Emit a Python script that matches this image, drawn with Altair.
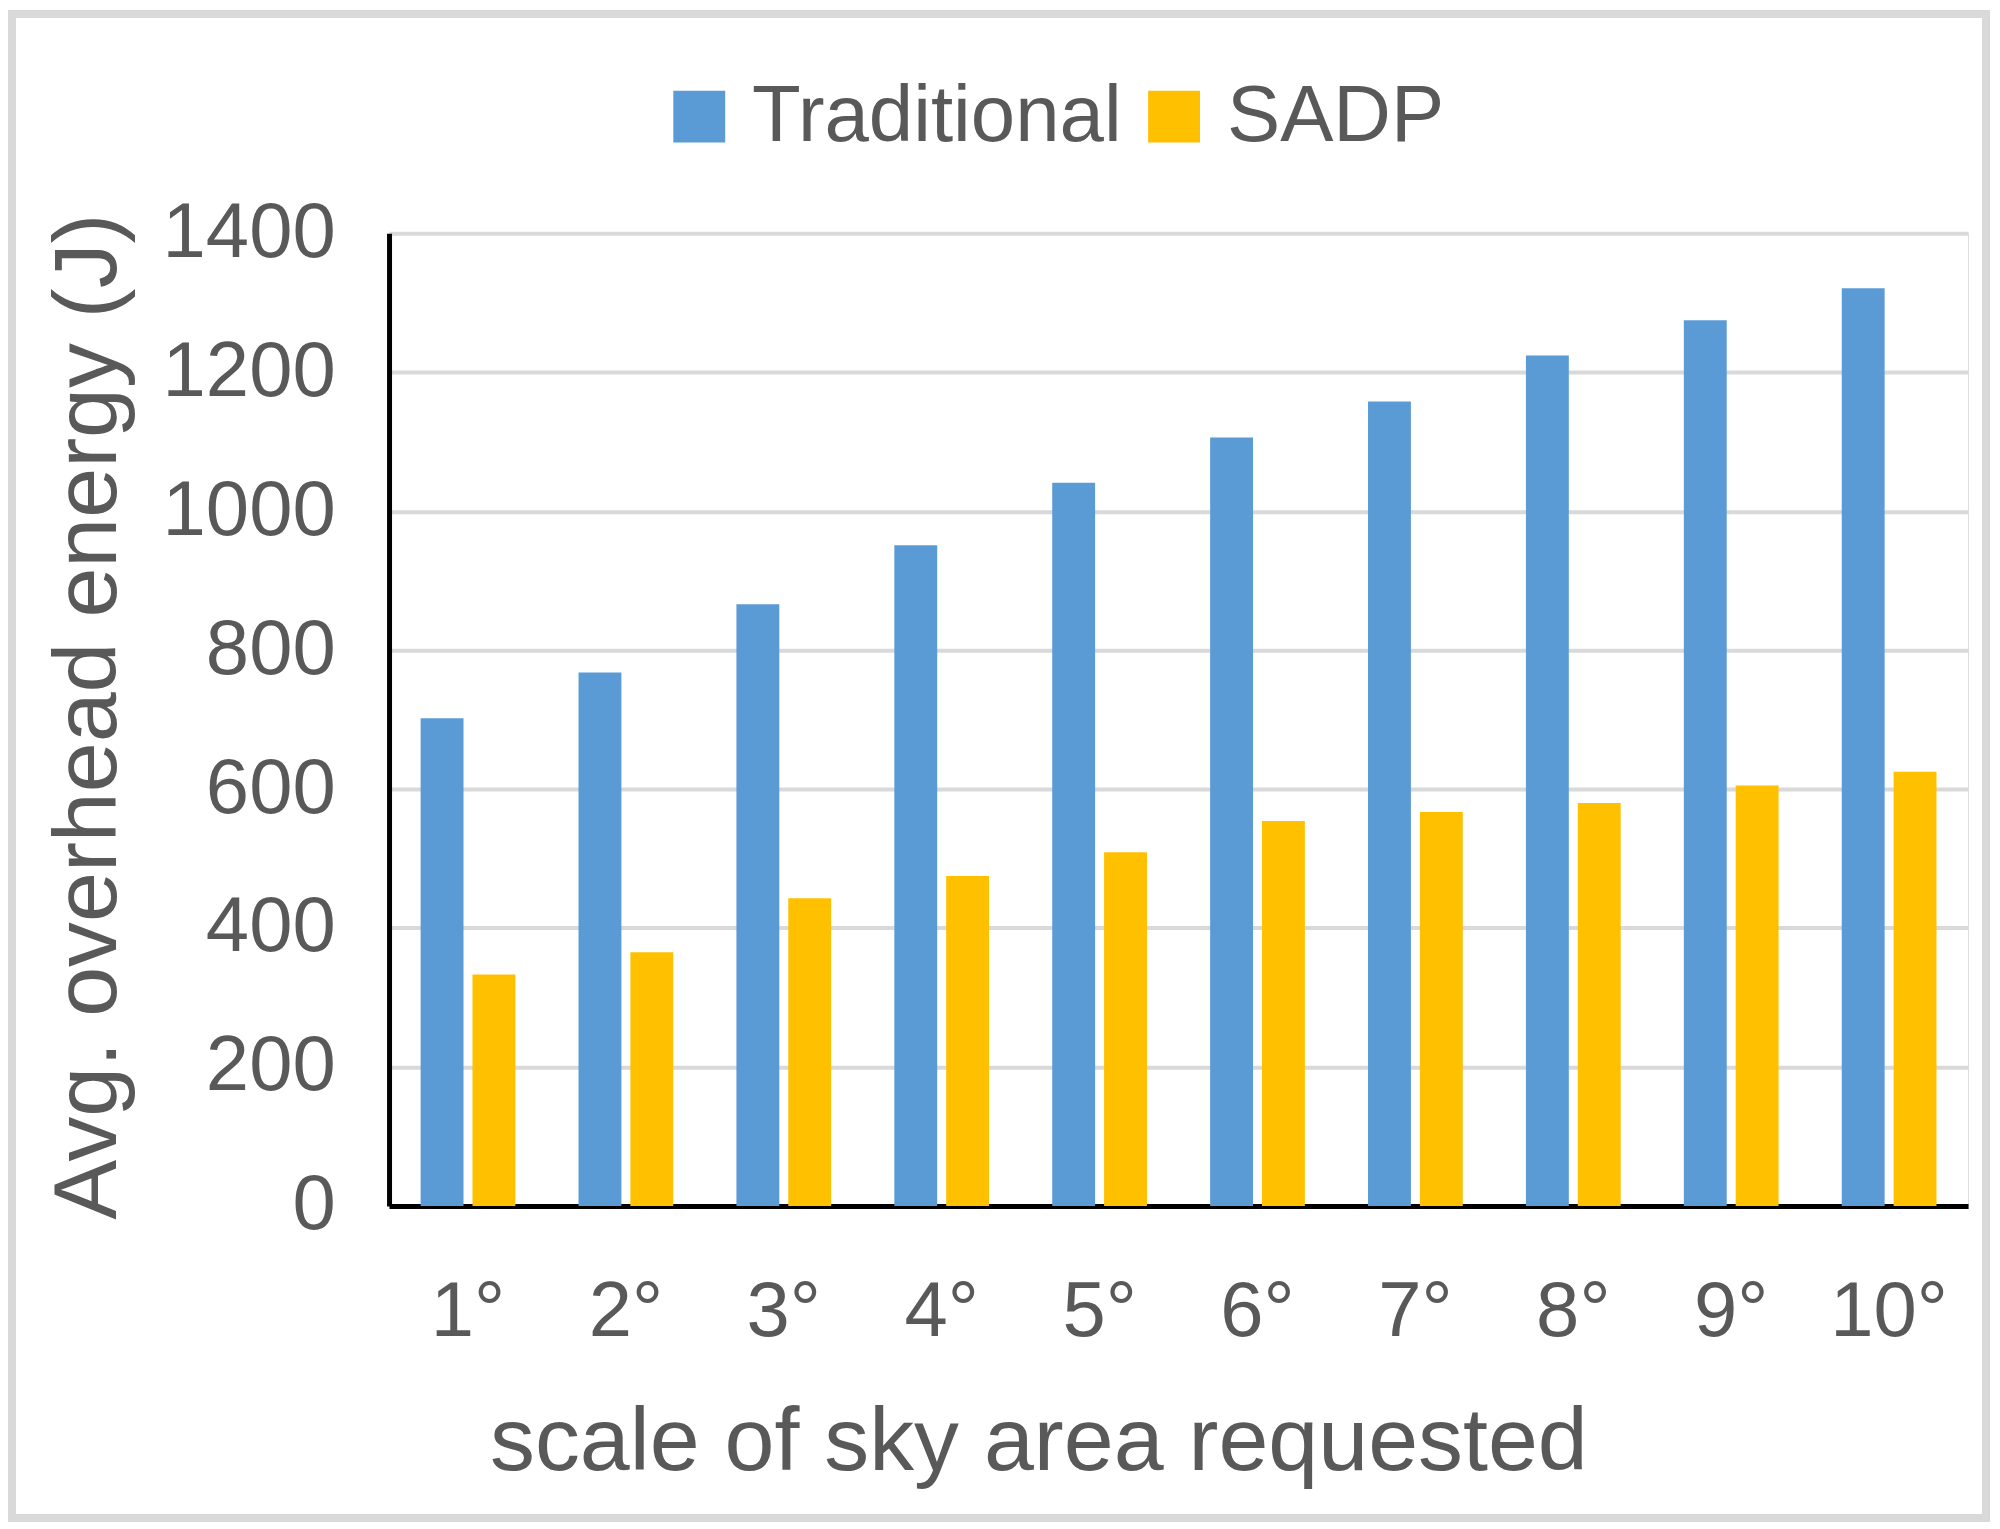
import altair as alt
import pandas as pd

categories = ["1°", "2°", "3°", "4°", "5°", "6°", "7°", "8°", "9°", "10°"]
series_names = ["Traditional", "SADP"]
traditional = [702, 768, 866, 951, 1041, 1106, 1158, 1224, 1275, 1321]
sadp = [333, 365, 443, 475, 509, 554, 567, 580, 605, 625]
y_ticks = [0, 200, 400, 600, 800, 1000, 1200, 1400]
colors = ["#5B9BD5", "#FFC000"]

rows = []
for c, t, s in zip(categories, traditional, sadp):
    rows.append({"scale": c, "series": "Traditional", "energy": t})
    rows.append({"scale": c, "series": "SADP", "energy": s})
df = pd.DataFrame(rows)

FONT = "Liberation Sans"
TEXT = "#595959"

bars = alt.Chart(df).mark_bar().encode(
    x=alt.X(
        "scale:N",
        sort=categories,
        scale=alt.Scale(paddingInner=0.4, paddingOuter=0.2),
        axis=alt.Axis(
            title="scale of sky area requested",
            labelAngle=0,
            ticks=False,
            grid=False,
            labelFontSize=78,
            labelColor=TEXT,
            labelFont=FONT,
            labelLimit=1000,
            labelBaseline="alphabetic",
            labelPadding=130,
            domainColor="#000000",
            domainWidth=5,
            titleFont=FONT,
            titleFontSize=90,
            titleFontWeight="normal",
            titleColor=TEXT,
            titleX=651,
            titleY=264,
            titleAlign="center",
            titleBaseline="alphabetic",
            titleLimit=3000,
        ),
    ),
    xOffset=alt.XOffset(
        "series:N",
        sort=series_names,
        scale=alt.Scale(paddingInner=0.173, paddingOuter=0),
    ),
    y=alt.Y(
        "energy:Q",
        scale=alt.Scale(domain=[0, 1400], nice=False),
        axis=alt.Axis(
            title="Avg. overhead energy (J)",
            values=y_ticks,
            format="d",
            ticks=False,
            grid=True,
            gridColor="#d9d9d9",
            gridWidth=4,
            labelFontSize=78,
            labelColor=TEXT,
            labelFont=FONT,
            labelLimit=1000,
            labelPadding=54,
            domainColor="#000000",
            domainWidth=5,
            titleFont=FONT,
            titleFontSize=90,
            titleFontWeight="normal",
            titleColor=TEXT,
            titleAngle=270,
            titleX=-274,
            titleY=484,
            titleAlign="center",
            titleBaseline="alphabetic",
            titleLimit=3000,
        ),
    ),
    color=alt.Color(
        "series:N",
        sort=series_names,
        scale=alt.Scale(domain=series_names, range=colors),
        legend=alt.Legend(
            title=None,
            orient="none",
            legendX=271,
            legendY=-157,
            padding=0,
            direction="horizontal",
            symbolType="square",
            symbolSize=2704,
            symbolStrokeWidth=0,
            labelFontSize=80,
            labelFont=FONT,
            labelColor=TEXT,
            labelLimit=1000,
            labelOffset=13,
            columnPadding=12,
        ),
    ),
)

frame = alt.Chart(pd.DataFrame({"f": [0]})).mark_rect(
    fill="white", fillOpacity=0, stroke="#d9d9d9", strokeWidth=8
).encode(
    x=alt.value(-378), x2=alt.value(1601), y=alt.value(-220), y2=alt.value(1288)
)

chart = alt.layer(frame, bars).properties(
    width=1583,
    height=975,
    padding={"left": 382, "top": 224, "right": 24, "bottom": 320},
    autosize=alt.AutoSizeParams(type="none"),
).configure_view(stroke=None).configure(background="white")

chart.save("out.html", embed_options={"renderer": "svg", "actions": False})
